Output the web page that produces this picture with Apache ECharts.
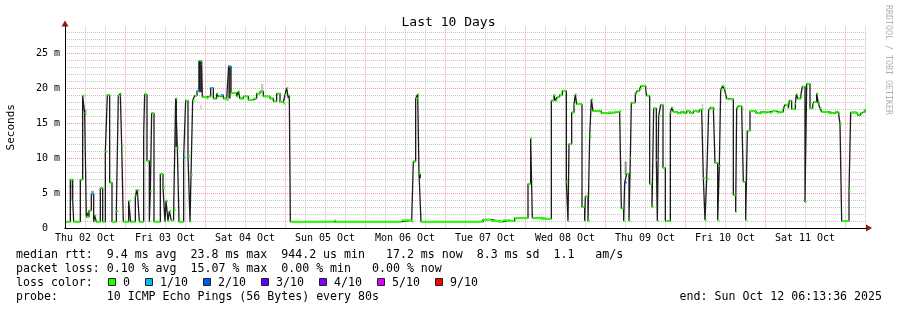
<!DOCTYPE html>
<html><head><meta charset="utf-8">
<script src="https://cdn.jsdelivr.net/npm/echarts@6/dist/echarts.min.js"></script>
<style>html,body{margin:0;padding:0;background:#fff}#c{width:897px;height:310px}</style>
</head><body><div id="c"></div>
<script>
// ---- data (x = hours since Thu 02 Oct 00:00, y = median rtt in ms) ----
const startHour = 6;
const endHour = 246.3;
const xTickHours = [12, 36, 60, 84, 108, 132, 156, 180, 204, 228];
const xTickLabels = ['Thu 02 Oct','Fri 03 Oct','Sat 04 Oct','Sun 05 Oct','Mon 06 Oct','Tue 07 Oct','Wed 08 Oct','Thu 09 Oct','Fri 10 Oct','Sat 11 Oct'];
const yTickValues = [0, 5, 10, 15, 20, 25];
const yTickLabels = ['0  ', '5 m', '10 m', '15 m', '20 m', '25 m'];

// step points [hour, median ms] - value holds until next point
const rttOct02 = [[6.3,0.9],[7.6,6.9],[8.3,4.0],[8.6,0.9],[10.6,6.9],[11.3,18.9],[11.9,16.4],[12.4,1.6],[13.2,2.5],[13.9,4.9],[14.6,0.9],[14.9,1.8],[15.4,0.9],[16.6,5.7],[17.3,0.9],[18.1,10.9],[18.7,19.0],[19.4,6.5],[20.1,0.9],[21.4,2.4],[22.0,18.9],[22.6,19.2],[23.0,11.7],[23.5,0.9]];
const rttOct03 = [[25.1,3.9],[25.7,0.9],[27.1,4.6],[27.7,5.4],[28.3,0.9],[29.6,13.4],[29.9,19.1],[30.6,9.6],[31.3,0.9],[31.6,5.3],[32.0,16.4],[32.7,0.9],[34.6,7.7],[35.4,5.8],[36.0,0.9],[36.3,3.9],[36.9,1.0],[37.3,2.4],[37.9,1.1],[38.6,2.6],[39.2,18.5],[39.7,11.5],[40.2,0.9],[41.6,10.1],[42.2,18.2],[42.9,10.3],[43.5,0.9],[43.8,7.6],[44.3,18.2],[44.9,18.9],[45.6,19.6],[46.3,23.9],[46.9,23.4],[47.2,18.7]];
const rttOct04 = [[48.5,18.5],[49.0,18.8],[49.7,20.0],[50.5,18.5],[51.5,19.2],[52.0,18.8],[52.7,19.0],[53.5,18.5],[54.5,18.3],[55.1,23.1],[55.8,19.3],[57.5,18.8],[58.0,19.5],[58.5,18.5],[59.5,18.8],[61.0,18.3],[62.5,18.5],[63.5,19.2],[64.5,19.5],[65.5,18.8],[67.5,18.5],[68.5,18.1],[69.5,19.2],[70.5,18.0],[71.5,17.8]];
const rttOct05 = [[72.0,19.0],[72.5,20.0],[73.0,18.5],[73.3,18.9],[73.6,0.9],[86.8,1.1],[87.2,0.9]];
const rttOct06 = [[107.0,1.1],[110.0,0.9],[110.5,9.5],[111.2,18.5],[111.8,19.1],[112.2,7.8],[112.8,0.9]];
const rttOct07 = [[131.4,1.2],[133.9,1.0],[135.9,0.9],[137.4,1.1],[139.4,1.0],[140.9,1.4]];
const rttOct08 = [[144.9,6.3],[145.7,12.8],[146.2,1.4],[148.9,1.3],[151.9,18.2],[152.7,19.0],[153.1,18.2],[153.7,18.7],[154.4,19.0],[155.2,19.6],[156.4,6.6],[156.9,1.0],[157.2,12.0],[158.0,16.5],[158.7,17.6],[159.1,19.1],[159.5,17.7],[161.1,3.0],[161.9,1.0],[162.1,4.5],[162.9,1.0],[163.4,13.1],[163.9,18.4],[164.4,16.7],[166.9,16.4]];
const rttOct09 = [[168.9,16.5],[170.9,16.6],[172.4,16.7],[172.9,2.8],[173.6,1.0],[173.9,6.5],[174.5,7.7],[175.2,1.0],[175.6,10.0],[175.9,17.9],[177.1,19.2],[177.7,19.6],[178.4,19.9],[178.9,20.3],[180.2,19.7],[180.5,18.9],[181.4,6.3],[182.1,3.0],[182.6,17.1],[183.4,9.7],[183.7,1.0],[184.1,16.0],[184.7,17.6],[185.4,8.6],[186.1,1.0],[187.6,16.5],[188.0,17.2],[188.5,16.6],[189.5,16.4],[190.5,16.6],[191.5,16.4]];
const rttOct10 = [[192.5,16.7],[193.5,16.4],[194.5,16.7],[195.5,16.6],[196.3,16.9],[197.0,17.0],[197.5,7.1],[198.0,1.1],[198.5,7.0],[199.1,16.9],[199.7,17.2],[200.5,17.0],[201.0,9.3],[201.8,1.1],[202.3,8.9],[202.7,19.7],[203.3,20.3],[203.8,19.9],[204.2,19.1],[204.5,18.5],[205.0,18.4],[206.5,4.7],[207.2,2.3],[207.5,17.1],[208.0,17.4],[209.0,17.1],[209.5,6.6],[210.2,1.1],[210.7,13.9],[211.5,16.7],[213.3,16.4],[214.5,16.6],[215.5,16.5]];
const rttOct11 = [[216.5,16.6],[217.5,16.4],[218.0,16.7],[219.5,16.5],[220.5,16.6],[221.5,17.1],[222.0,17.6],[223.0,17.1],[223.3,18.2],[224.0,17.0],[225.1,17.8],[225.4,19.1],[225.8,18.5],[226.7,18.8],[227.2,20.2],[228.0,3.7],[228.5,20.6],[229.5,17.1],[230.3,17.7],[230.7,18.0],[231.5,19.2],[232.0,17.8],[232.5,17.1],[233.0,16.6],[234.0,16.6],[235.0,16.4],[237.0,16.6],[238.0,16.4],[238.5,14.9],[239.0,1.0]];
const rttOct12 = [[241.2,5.2],[241.7,16.5],[243.5,16.4],[244.0,16.1],[244.7,16.4],[245.3,16.6],[246.0,16.9]];

// loss events [hour of step, loss level index]
const lossEvents = [[13.9,1],[41.6,1],[45.6,1],[46.9,1],[49.7,1],[52.7,1],[55.1,1],[173.9,2]];
// smoke (ping spread) [from hour, to hour, low ms, high ms, density 0..2]
const smoke = [[7.6,7.9,4.0,6.9,2],[11.9,12.4,16.1,16.9,1],[12.4,13.1,1.5,2.2,2],[13.9,14.6,4.7,5.3,1],[27.1,27.9,4.7,5.5,1],[39.1,39.6,11.6,18.5,2],[46.0,47.2,19.4,23.9,2],[46.6,47.0,17.0,17.6,0],[55.0,55.7,18.5,23.2,2],[64.8,65.5,19.4,20.6,0],[112.2,112.8,7.1,7.8,2],[173.9,174.5,7.6,9.5,1],[197.0,197.5,17.2,17.7,0]];

const lossColors = ['#26ff00','#00b8ff','#0059ff','#5e00ff','#7e00ff','#dd00ff','#ff0000'];
const lossLabels = ['0','1/10','2/10','3/10','4/10','5/10','9/10'];
const smokeShades = ['#c8c8c8','#8a8a8a','#333333'];

const statsLine1 = 'median rtt:  9.4 ms avg  23.8 ms max  944.2 us min   17.2 ms now  8.3 ms sd  1.1   am/s';
const statsLine2 = 'packet loss: 0.10 % avg  15.07 % max  0.00 % min   0.00 % now';
const probeLine = 'probe:       10 ICMP Echo Pings (56 Bytes) every 80s';
const endLine = 'end: Sun Oct 12 06:13:36 2025';

// ---- build ----
const pts = [].concat(rttOct02, rttOct03, rttOct04, rttOct05, rttOct06, rttOct07, rttOct08, rttOct09, rttOct10, rttOct11, rttOct12);
const lineData = pts.concat([[endHour, pts[pts.length-1][1]]]);
const segData = pts.map((p, i) => {
  const t1 = i < pts.length - 1 ? pts[i+1][0] : endHour;
  const ev = lossEvents.find(e => Math.abs(e[0] - p[0]) < 0.01);
  return [p[0], t1, p[1], ev ? ev[1] : 0];
});

const MONO = '"DejaVu Sans Mono", monospace';
const GRAY = '#c4c4c4';
const RED = '#eea0a0';

const graphics = [];
const L = 16;
graphics.push({type:'text', x:L, y:254.5, style:{text:statsLine1, font:'11.6px '+MONO, fill:'#000', verticalAlign:'middle'}});
graphics.push({type:'text', x:L, y:268.5, style:{text:statsLine2, font:'11.6px '+MONO, fill:'#000', verticalAlign:'middle'}});
graphics.push({type:'text', x:L, y:282.5, style:{text:'loss color:', font:'11.6px '+MONO, fill:'#000', verticalAlign:'middle'}});
let sx = 108;
lossLabels.forEach((lab, i) => {
  graphics.push({type:'rect', shape:{x:sx+0.5, y:278.5, width:7, height:7}, style:{fill:lossColors[i], stroke:'#222', lineWidth:1}});
  graphics.push({type:'text', x:sx+15, y:282.5, style:{text:lab, font:'11.6px '+MONO, fill:'#000', verticalAlign:'middle'}});
  sx += lab.length * 7 + 30;
});
graphics.push({type:'text', x:L, y:296.5, style:{text:probeLine, font:'11.6px '+MONO, fill:'#000', verticalAlign:'middle'}});
graphics.push({type:'text', x:882, y:296.5, style:{text:endLine, font:'11.6px '+MONO, fill:'#000', align:'right', verticalAlign:'middle'}});
graphics.push({type:'text', x:888, y:60, rotation:-Math.PI/2, style:{text:'RRDTOOL / TOBI OETIKER', font:'8.3px '+MONO, fill:'#b0b0b0', align:'center', verticalAlign:'middle'}});

const chart = echarts.init(document.getElementById('c'), null, {renderer:'canvas'});
chart.setOption({
  animation: false,
  backgroundColor: '#ffffff',
  title: {text:'Last 10 Days', left:'center', top:11, textStyle:{fontFamily:MONO, fontSize:13, fontWeight:'normal', color:'#000'}},
  grid: {left:65, top:26.4, width:801, height:201.6, containLabel:false, outerBoundsMode:'none'},
  xAxis: [{
    type:'value', min:startHour, max:endHour, interval:6, z:1,
    axisLine:{show:true, onZero:false, lineStyle:{color:'#000', width:1}},
    axisTick:{show:false},
    axisLabel:{margin:5, fontFamily:MONO, fontSize:10, color:'#000', showMaxLabel:false,
      formatter: v => { const k = xTickHours.findIndex(h => Math.abs(h - v) < 0.01); return k >= 0 ? xTickLabels[k] : ''; }},
    splitLine:{show:true, showMaxLine:false, lineStyle:{color:[GRAY,GRAY,GRAY,RED], type:[1,1], width:1}}
  },{
    type:'value', min:startHour, max:endHour, position:'bottom', z:0,
    axisLine:{show:true, onZero:false, symbol:['none','triangle'], symbolSize:[7,6], symbolOffset:[0,3], lineStyle:{color:'#8b1a1a', width:1}},
    axisTick:{show:false}, axisLabel:{show:false}, splitLine:{show:false}
  }],
  yAxis: [{
    type:'value', min:0, max:28.8, interval:1, z:1,
    name:'Seconds', nameLocation:'middle', nameGap:48, nameRotate:90,
    nameTextStyle:{fontFamily:MONO, fontSize:11, color:'#000'},
    axisLine:{show:true, lineStyle:{color:'#000', width:1}},
    axisTick:{show:false},
    axisLabel:{margin:5, fontFamily:MONO, fontSize:10, color:'#000', showMaxLabel:false,
      formatter: v => { const k = yTickValues.findIndex(t => Math.abs(t - v) < 0.001); return k >= 0 ? yTickLabels[k] : ''; }},
    splitLine:{show:true, showMaxLine:false, lineStyle:{color:[RED,GRAY,GRAY,GRAY,GRAY], type:[1,1], width:1}}
  },{
    type:'value', min:0, max:28.8, position:'left', z:0,
    axisLine:{show:true, symbol:['none','triangle'], symbolSize:[7,6], symbolOffset:[0,3], lineStyle:{color:'#8b1a1a', width:1}},
    axisTick:{show:false}, axisLabel:{show:false}, splitLine:{show:false}
  }],
  series: [{
    type:'custom', name:'smoke', z:2, xAxisIndex:0, yAxisIndex:0,
    data: smoke, encode:{x:[0,1], y:[2,3]},
    renderItem: (params, api) => {
      const a = api.coord([api.value(0), api.value(3)]);
      const b = api.coord([api.value(1), api.value(2)]);
      return {type:'rect', shape:{x:a[0], y:a[1], width:Math.max(1,b[0]-a[0]), height:b[1]-a[1]}, style:{fill:smokeShades[api.value(4)]}};
    }
  },{
    type:'line', name:'median', z:3, step:'end', data: lineData, showSymbol:false, symbol:'none',
    lineStyle:{color:'#1c1c1c', width:1.3}
  },{
    type:'custom', name:'loss', z:4, data: segData, encode:{x:[0,1], y:2},
    renderItem: (params, api) => {
      const v = api.value(2);
      const a = api.coord([api.value(0), v]);
      const b = api.coord([api.value(1), v]);
      return {type:'line', shape:{x1:a[0], y1:a[1], x2:b[0], y2:b[1]}, style:{stroke:lossColors[api.value(3)], lineWidth:2}};
    }
  }],
  graphic: graphics
});
</script>
</body></html>
